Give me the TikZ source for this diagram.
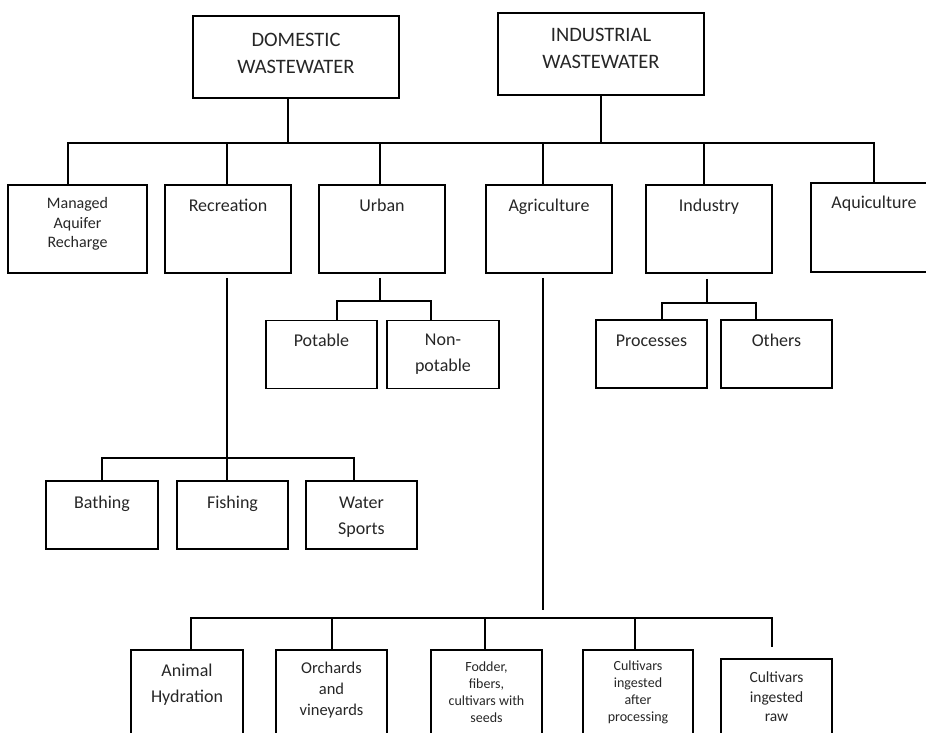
\documentclass[tikz,border=0pt]{standalone}
\usepackage{fontspec}
\setmainfont{Carlito}
\usetikzlibrary{positioning}

\begin{document}
\begin{tikzpicture}[x=1pt, y=-1pt,
    box/.style={draw, line width=1.5pt, inner sep=0pt, minimum width=126pt, minimum height=88pt},
    sbox/.style={draw, line width=1.5pt, inner sep=0pt, minimum width=111pt, minimum height=68pt},
    txt/.style={align=center, inner sep=0pt, text=black!85, font=\fontsize{18}{26}\selectfont},
    line/.style={line width=1.5pt}]
    \useasboundingbox (0,0) rectangle (926,733);
    \clip (0,0) rectangle (926,733);

    % Sources
    \node[box, minimum width=206pt, minimum height=82pt] (dom) at (296,57) {};
    \node[box, minimum width=206pt, minimum height=82pt] (ind) at (601,54) {};
    \node[txt, font=\fontsize{20.5}{27}\selectfont, below=18pt of dom.north] (domtxt) {DOMESTIC\\WASTEWATER};
    \node[txt, font=\fontsize{20.5}{27}\selectfont, below=16pt of ind.north] (indtxt) {INDUSTRIAL\\WASTEWATER};

    % Uses
    \node[box, minimum width=139pt] (mar) at (77.5,229) {};
    \node[box] (rec) at (228,229) {};
    \node[box] (urb) at (382,229) {};
    \node[box] (agr) at (549,229) {};
    \node[box] (ids) at (709,229) {};
    \node[box, minimum height=89pt] (aqu) at (874,227.5) {};
    \node[txt, font=\fontsize{16}{19.5}\selectfont, below=13pt of mar.north] (martxt) {Managed\\Aquifer\\Recharge};
    \node[txt, below=15pt of rec.north] (rectxt) {Recreation};
    \node[txt, below=15pt of urb.north] (urbtxt) {Urban};
    \node[txt, below=15pt of agr.north] (agrtxt) {Agriculture};
    \node[txt, below=15pt of ids.north] (idstxt) {Industry};
    \node[txt, below=14pt of aqu.north] (aqutxt) {Aquiculture};

    % Urban and industry
    \node[sbox] (pot) at (321.5,354.5) {};
    \node[sbox, minimum width=112pt] (npot) at (443,354.5) {};
    \node[sbox] (pro) at (651.5,354) {};
    \node[sbox] (oth) at (776.5,354) {};
    \node[txt, below=14pt of pot.north] (pottxt) {Potable};
    \node[txt, below=14pt of npot.north] (npottxt) {Non-\\potable};
    \node[txt, below=15pt of pro.north] (protxt) {Processes};
    \node[txt, below=15pt of oth.north] (othtxt) {Others};

    % Recreation
    \node[sbox, minimum width=112pt] (bat) at (102,515) {};
    \node[sbox] (fis) at (232.5,515) {};
    \node[sbox] (wsp) at (361.5,515) {};
    \node[txt, below=16pt of bat.north] (battxt) {Bathing};
    \node[txt, below=16pt of fis.north] (fistxt) {Fishing};
    \node[txt, below=16pt of wsp.north] (wsptxt) {Water\\Sports};

    % Agriculture
    \node[sbox, minimum width=112pt, minimum height=100pt, anchor=north] (ani) at (187,649) {};
    \node[sbox, minimum height=100pt, anchor=north] (orc) at (331.5,649) {};
    \node[sbox, minimum height=100pt, anchor=north] (fod) at (486.5,649) {};
    \node[sbox, minimum width=110pt, minimum height=100pt, anchor=north] (cap) at (638,649) {};
    \node[sbox, minimum height=100pt, anchor=north] (raw) at (776.5,658) {};
    \node[txt, below=15pt of ani.north] (anitxt) {Animal\\Hydration};
    \node[txt, font=\fontsize{16.5}{21}\selectfont, below=13pt of orc.north] (orctxt) {Orchards\\and\\vineyards};
    \node[txt, font=\fontsize{14}{16.7}\selectfont, below=13pt of fod.north] (fodtxt) {Fodder,\\fibers,\\cultivars with\\seeds};
    \node[txt, font=\fontsize{14}{16.7}\selectfont, below=12pt of cap.north] (captxt) {Cultivars\\ingested\\after\\processing};
    \node[txt, font=\fontsize{15.5}{19.5}\selectfont, below=14pt of raw.north] (rawtxt) {Cultivars\\ingested\\raw};

    % Connectors
    \coordinate (bus) at (0,143);
    \coordinate (ubus) at (0,301);
    \coordinate (ibus) at (0,303);
    \coordinate (rbus) at (0,458);
    \coordinate (abus) at (0,618);
    \coordinate (agrend) at (543,610);

    \draw[line] ([xshift=-8pt]dom.south) -- ([xshift=-8pt]dom.south |- bus);
    \draw[line] (ind.south) -- (ind.south |- bus);
    \draw[line] ([xshift=-9.5pt]mar.north) |- (aqu.north |- bus) -- (aqu.north);
    \draw[line] ([xshift=-1pt]rec.north) -- ([xshift=-1pt]rec.north |- bus);
    \draw[line] ([xshift=-2pt]urb.north) -- ([xshift=-2pt]urb.north |- bus);
    \draw[line] ([xshift=-6pt]agr.north) -- ([xshift=-6pt]agr.north |- bus);
    \draw[line] ([xshift=-5pt]ids.north) -- ([xshift=-5pt]ids.north |- bus);

    \draw[line] ([xshift=-2pt, yshift=-4pt]urb.south) -- ([xshift=-2pt]urb.south |- ubus);
    \draw[line] ([xshift=15.5pt]pot.north) |- ([xshift=-12pt]npot.north |- ubus) -- ([xshift=-12pt]npot.north);

    \draw[line] ([xshift=-2pt, yshift=-5pt]ids.south) -- ([xshift=-2pt]ids.south |- ibus);
    \draw[line] ([xshift=10.5pt]pro.north) |- ([xshift=-20.5pt]oth.north |- ibus) -- ([xshift=-20.5pt]oth.north);

    \draw[line] ([xshift=-1pt, yshift=-4pt]rec.south) -- ([xshift=-1pt]rec.south |- rbus);
    \draw[line] (bat.north) |- ([xshift=-7.5pt]wsp.north |- rbus) -- ([xshift=-7.5pt]wsp.north);
    \draw[line] ([xshift=-5.5pt]fis.north) -- ([xshift=-5.5pt]fis.north |- rbus);

    \draw[line] ([xshift=-6pt, yshift=-4pt]agr.south) -- (agrend);
    \draw[line] ([xshift=4pt]ani.north) |- ([xshift=-4.5pt]raw.north |- abus) -- ([xshift=-4.5pt, yshift=11pt]raw.north);
    \draw[line] ([xshift=0.5pt]orc.north) -- ([xshift=0.5pt]orc.north |- abus);
    \draw[line] ([xshift=-1.5pt]fod.north) -- ([xshift=-1.5pt]fod.north |- abus);
    \draw[line] ([xshift=-3pt]cap.north) -- ([xshift=-3pt]cap.north |- abus);
\end{tikzpicture}
\end{document}
